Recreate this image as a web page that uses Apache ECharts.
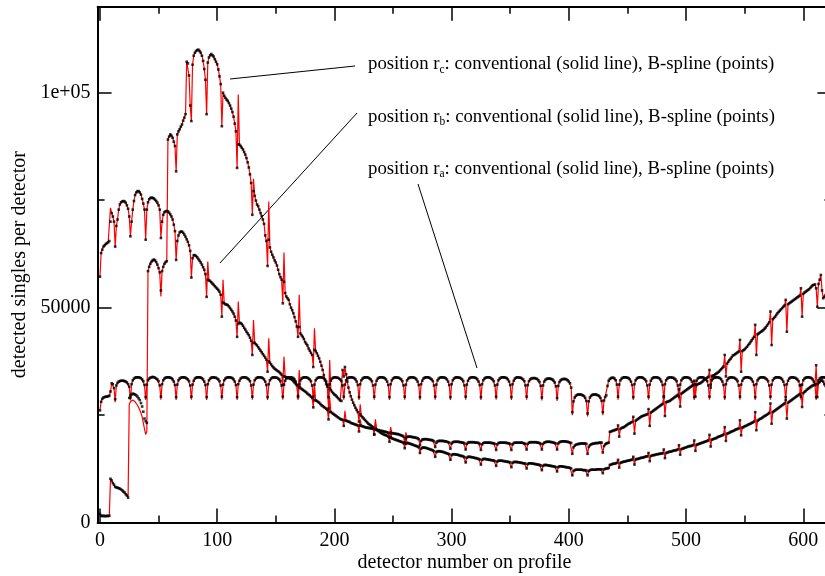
<!DOCTYPE html>
<html><head><meta charset="utf-8">
<script src="https://cdn.jsdelivr.net/npm/echarts@6/dist/echarts.min.js"></script>
<style>html,body{margin:0;padding:0;background:#fff}#c{width:825px;height:576px}</style>
</head><body><div id="c"></div>
<script>
// detector index = array position (0..620); values in units of 100 counts
const xTickValues=[0,100,200,300,400,500,600];
const xMinorTickValues=[50,150,250,350,450,550];
const yTickValues=[0,500,1000];
const yMinorTickValues=[250,750];
const yTickLabels={0:'0',500:'50000',1000:'1e+05'};
const annotationSubs=['c','b','a'];
const annotationText=': conventional (solid line), B-spline (points)';

const ra_points=[
261,281,288,291,292,293,293,294,295,305,324,322,313,
287,319,325,328,329,330,330,330,329,328,326,322,316,
291,322,331,335,337,338,338,338,337,336,333,329,320,
292,321,331,335,337,338,339,338,337,335,333,329,319,
293,322,331,335,337,338,338,338,337,336,333,328,320,
292,321,331,335,337,338,338,338,337,335,333,329,319,
293,321,330,335,337,338,338,338,337,336,333,328,320,
292,322,331,335,337,338,338,337,337,335,333,329,319,
293,321,331,335,337,338,338,338,337,336,333,328,320,
292,322,330,335,337,338,338,338,337,335,333,329,319,
293,321,331,335,337,338,338,338,337,336,333,328,320,
292,322,331,335,337,338,338,337,337,335,333,329,319,
293,321,330,335,337,338,338,338,337,336,333,328,320,
292,322,331,335,337,338,338,338,337,335,333,329,319,
293,321,331,335,337,338,338,338,337,336,333,328,320,
292,322,330,335,337,338,338,337,337,335,333,329,319,
293,321,331,335,337,338,338,338,337,336,333,328,320,
292,322,331,335,337,338,338,338,337,335,333,329,319,
293,321,330,335,337,338,338,338,337,336,333,328,320,
292,322,331,335,337,338,338,337,337,335,333,329,319,
293,321,331,335,337,338,338,338,337,336,333,328,320,
292,322,330,335,337,338,338,338,337,335,333,329,319,
293,321,331,335,337,338,338,338,337,336,333,328,320,
292,322,331,335,337,338,338,337,337,335,333,329,319,
293,321,330,335,337,338,338,338,337,336,333,328,320,
292,322,331,335,337,338,338,338,337,335,333,329,319,
293,321,331,335,337,338,338,338,337,336,333,328,320,
292,322,330,335,337,338,338,337,337,335,333,329,319,
293,320,329,333,335,336,336,336,335,334,331,327,318,
291,319,328,332,334,335,335,335,334,333,330,326,317,
290,318,327,331,333,334,334,334,333,331,328,324,314,
257,282,291,295,297,298,298,298,297,296,294,290,283,
254,282,291,295,297,298,298,298,297,296,294,290,283,
257,284,292,296,318,330,334,336,337,337,335,331,321,
293,321,331,335,337,338,338,338,337,336,333,328,320,
292,322,331,335,337,338,338,338,337,335,333,329,319,
293,321,330,335,337,338,338,338,337,336,333,328,320,
292,322,331,335,337,338,338,337,337,335,333,329,319,
293,321,331,335,337,338,338,338,337,336,333,328,320,
292,322,330,335,337,338,338,338,337,335,333,329,319,
293,321,331,335,337,338,338,338,337,336,333,328,320,
292,322,331,335,337,338,338,337,337,335,333,329,319,
293,321,330,335,337,338,338,338,337,336,333,328,320,
292,322,331,335,337,338,338,338,337,335,333,329,319,
293,321,331,335,337,338,338,338,337,336,333,328,320,
292,322,330,335,337,338,338,337,337,335,333,329,319,
293,321,331,335,337,338,338,338,337,336,333,328,320,
292,322,331,335,337,338,338,338,337,336];

const ra_line=[
261,281,288,291,292,293,293,294,295,305,324,322,313,
280,319,325,328,329,330,330,330,329,328,326,322,316,
284,322,331,335,337,338,338,338,337,336,333,329,320,
285,321,331,335,337,338,339,338,337,335,333,329,319,
286,322,331,335,337,338,338,338,337,336,333,328,320,
285,321,331,335,337,338,338,338,337,335,333,329,319,
286,321,330,335,337,338,338,338,337,336,333,328,320,
285,322,331,335,337,338,338,337,337,335,333,329,319,
286,321,331,335,337,338,338,338,337,336,333,328,320,
285,322,330,335,337,338,338,338,337,335,333,329,319,
286,321,331,335,337,338,338,338,337,336,333,328,320,
285,322,331,335,337,338,338,337,337,335,333,329,319,
286,321,330,335,337,338,338,338,337,336,333,328,320,
285,322,331,335,337,338,338,338,337,335,333,329,319,
286,321,331,335,337,338,338,338,337,336,333,328,320,
285,322,330,335,337,338,338,337,337,335,333,329,319,
286,321,331,335,337,338,338,338,337,336,333,328,320,
285,322,331,335,337,338,338,338,337,335,333,329,319,
286,321,330,335,337,338,338,338,337,336,333,328,320,
285,322,331,335,337,338,338,337,337,335,333,329,319,
286,321,331,335,337,338,338,338,337,336,333,328,320,
285,322,330,335,337,338,338,338,337,335,333,329,319,
286,321,331,335,337,338,338,338,337,336,333,328,320,
285,322,331,335,337,338,338,337,337,335,333,329,319,
286,321,330,335,337,338,338,338,337,336,333,328,320,
285,322,331,335,337,338,338,338,337,335,333,329,319,
286,321,331,335,337,338,338,338,337,336,333,328,320,
285,322,330,335,337,338,338,337,337,335,333,329,319,
286,320,329,333,335,336,336,336,335,334,331,327,318,
284,319,328,332,334,335,335,335,334,333,330,326,317,
283,318,327,331,333,334,334,334,333,331,328,324,314,
250,282,291,295,297,298,298,298,297,296,294,290,283,
247,282,291,295,297,298,298,298,297,296,294,290,283,
250,284,292,296,318,330,334,336,337,337,335,331,321,
286,321,331,335,337,338,338,338,337,336,333,328,320,
285,322,331,335,337,338,338,338,337,335,333,329,319,
286,321,330,335,337,338,338,338,337,336,333,328,320,
285,322,331,335,337,338,338,337,337,335,333,329,319,
286,321,331,335,337,338,338,338,337,336,333,328,320,
285,322,330,335,337,338,338,338,337,335,333,329,319,
286,321,331,335,337,338,338,338,337,336,333,328,320,
285,322,331,335,337,338,338,337,337,335,333,329,319,
286,321,330,335,337,338,338,338,337,336,333,328,320,
285,322,331,335,337,338,338,338,337,335,333,329,319,
286,321,331,335,337,338,338,338,337,336,333,328,320,
285,322,330,335,337,338,338,337,337,335,333,329,319,
286,321,331,335,337,338,338,338,337,336,333,328,320,
285,322,331,335,337,338,338,338,337,336];

const rb_points=[
572,627,635,642,645,648,650,652,655,700,720,712,700,
642,690,705,728,740,745,747,748,747,744,738,730,712,
666,700,728,748,762,768,771,771,768,763,753,742,728,
658,728,745,752,755,756,755,754,751,748,744,738,728,
662,700,716,722,724,725,724,721,717,712,705,693,678,
611,655,668,675,677,677,674,670,665,659,653,645,632,
570,615,622,622,620,617,613,609,605,600,594,588,578,
525,565,563,562,559,556,553,550,547,544,541,537,530,
479,512,510,508,507,506,503,499,495,491,486,479,470,
432,462,465,464,462,458,453,449,444,440,436,430,423,
390,418,418,415,412,408,404,400,396,392,388,384,379,
351,375,372,368,364,361,358,356,354,352,350,347,344,
320,340,339,338,337,336,335,334,332,329,326,323,320,
295,315,313,311,309,307,305,303,300,298,296,293,290,
268,285,284,283,281,279,276,273,271,269,267,265,262,
240,258,257,255,253,251,249,247,245,243,241,240,239,
225,238,237,236,235,234,232,231,230,229,228,227,226,
212,226,225,224,223,222,221,221,220,220,219,219,218,
205,217,216,215,215,214,213,213,212,211,211,210,209,
198,209,208,208,207,207,206,206,205,204,203,202,200,
186,196,199,200,200,200,199,199,198,198,197,196,194,
180,190,193,194,194,194,194,193,193,192,192,191,189,
176,186,189,190,190,190,190,190,189,189,188,187,186,
172,184,187,188,188,188,188,188,187,187,186,186,184,
170,183,186,187,187,187,187,187,186,186,186,185,183,
169,182,185,186,186,186,186,186,186,185,185,184,183,
169,182,185,186,186,186,186,186,186,185,185,184,183,
169,182,185,186,186,186,186,186,186,186,185,184,183,
170,183,186,187,187,187,187,187,187,186,186,185,183,
170,183,186,187,188,188,188,188,187,187,186,185,184,
170,184,187,188,189,189,189,189,188,188,187,186,185,
160,175,179,181,182,183,183,184,184,184,184,184,183,
160,176,180,182,183,184,184,185,185,185,186,186,186,
163,178,182,184,185,186,211,212,213,214,215,216,217,
226,200,218,220,221,222,224,226,228,230,231,233,234,
246,207,237,239,241,243,245,247,248,249,250,251,252,
264,225,256,258,260,262,264,266,268,270,272,274,276,
294,248,280,281,282,283,285,287,289,291,293,295,297,
310,270,300,302,304,306,308,310,312,314,316,318,320,
330,293,320,322,323,324,326,328,331,333,335,337,339,
355,314,341,342,343,345,347,349,351,354,357,360,363,
390,340,370,374,378,381,385,389,390,392,394,396,398,
425,351,399,401,403,406,409,413,416,420,424,428,432,
460,390,438,440,442,444,446,448,451,454,458,462,466,
491,413,473,476,479,483,487,490,493,496,499,502,505,
518,444,508,510,512,514,516,518,520,522,524,526,528,
545,479,532,535,537,539,541,543,546,549,552,553,554,
545,502,555,565,576,540,522,525,529,534];

const rb_line=[
572,627,635,642,645,648,650,652,655,732,720,712,700,
642,690,705,728,740,745,747,748,747,744,738,730,712,
666,700,728,748,762,768,771,771,768,763,753,742,728,
658,728,745,752,755,756,755,754,751,748,744,738,728,
662,700,716,722,724,725,724,721,717,712,705,693,678,
611,655,668,675,677,677,674,670,665,659,653,645,632,
570,615,622,622,620,617,613,609,605,600,594,588,578,
525,607,563,562,559,556,553,550,547,544,541,537,530,
479,565,510,508,507,506,503,499,495,491,486,479,470,
432,514,465,464,462,458,453,449,444,440,436,430,423,
390,471,418,415,412,408,404,400,396,392,388,384,379,
351,429,372,368,364,361,358,356,354,352,350,347,344,
320,386,339,338,337,336,335,334,332,329,326,323,320,
295,355,313,311,309,307,305,303,300,298,296,293,290,
268,320,284,283,281,279,276,273,271,269,267,265,262,
240,290,257,255,253,251,249,247,245,243,241,240,239,
225,260,237,236,235,234,232,231,230,229,228,227,226,
212,240,225,224,223,222,221,221,220,220,219,219,218,
205,232,216,215,215,214,213,213,212,211,211,210,209,
198,222,208,208,207,207,206,206,205,204,203,202,200,
186,210,199,200,200,200,199,199,198,198,197,196,194,
180,190,193,194,194,194,194,193,193,192,192,191,189,
176,186,189,190,190,190,190,190,189,189,188,187,186,
172,184,187,188,188,188,188,188,187,187,186,186,184,
170,183,186,187,187,187,187,187,186,186,186,185,183,
169,182,185,186,186,186,186,186,186,185,185,184,183,
169,182,185,186,186,186,186,186,186,185,185,184,183,
169,182,185,186,186,186,186,186,186,186,185,184,183,
170,183,186,187,187,187,187,187,187,186,186,185,183,
170,183,186,187,188,188,188,188,187,187,186,185,184,
170,184,187,188,189,189,189,189,188,188,187,186,185,
160,175,179,181,182,183,183,184,184,184,184,184,183,
160,176,180,182,183,184,184,185,185,185,186,186,186,
163,178,182,184,185,186,211,212,213,214,215,216,217,
226,200,218,220,221,222,224,226,228,230,231,233,234,
246,207,237,239,241,243,245,247,248,249,250,251,252,
264,225,256,258,260,262,264,266,268,270,272,274,276,
294,248,280,281,282,283,285,287,289,291,293,295,297,
310,270,300,302,304,306,308,310,312,314,316,318,320,
330,293,320,322,323,324,326,328,331,333,335,337,339,
355,314,341,342,343,345,347,349,351,354,357,360,363,
390,340,370,374,378,381,385,389,390,392,394,396,398,
425,351,399,401,403,406,409,413,416,420,424,428,432,
460,390,438,440,442,444,446,448,451,454,458,462,466,
491,413,473,476,479,483,487,490,493,496,499,502,505,
518,444,508,510,512,514,516,518,520,522,524,526,528,
545,479,532,535,537,539,541,543,546,549,552,553,554,
545,502,555,565,576,540,522,525,529,534];

const rc_points=[
20,16,15,16,15,15,16,15,16,102,98,92,88,
83,82,81,80,79,77,75,72,70,66,63,58,290,
296,298,300,299,298,296,293,289,285,278,270,258,242,
236,232,585,595,602,607,610,612,610,606,600,592,582,
540,585,595,602,606,608,891,898,903,900,895,886,876,
817,903,910,915,921,926,935,942,950,1072,1068,1040,970,
934,1065,1086,1093,1097,1099,1100,1097,1093,1086,1074,1055,1030,
950,1070,1082,1087,1090,1087,1084,1078,1072,1066,1054,1038,1020,
922,1000,993,988,984,981,976,970,963,955,944,928,910,
825,880,879,876,872,868,862,856,848,838,826,810,790,
716,771,760,749,740,736,728,720,713,705,695,668,655,
597,658,640,630,623,617,610,605,598,588,578,571,565,
510,560,534,526,522,518,508,500,494,487,478,468,456,
432,455,440,436,432,427,420,416,412,405,400,395,390,
362,402,399,394,388,382,374,365,355,343,331,322,316,
265,312,308,304,301,298,296,293,290,287,284,283,355,
340,362,345,328,314,303,294,286,279,273,267,262,257,
235,252,248,245,242,239,236,233,230,228,226,224,222,
205,218,216,214,212,210,208,207,205,204,203,202,200,
188,198,196,195,194,193,192,191,190,189,188,187,185,
173,183,185,185,184,183,182,181,180,179,178,177,175,
162,172,174,175,174,174,173,172,171,170,169,168,166,
153,164,166,166,166,165,165,164,163,162,161,160,159,
146,157,159,159,159,158,158,157,156,155,155,154,152,
140,151,153,153,153,152,152,151,150,150,149,148,147,
135,146,148,148,148,147,147,146,146,145,145,144,143,
132,142,144,144,144,144,143,143,142,142,141,141,140,
129,139,141,141,141,141,140,140,139,139,138,138,137,
126,136,138,138,138,137,137,136,136,135,135,134,133,
122,132,134,134,134,133,133,132,132,131,131,130,129,
119,129,131,131,131,130,130,129,129,128,128,127,126,
110,120,122,123,123,123,123,123,123,122,122,122,121,
110,120,122,123,123,123,123,123,124,124,124,124,124,
115,124,125,126,126,127,134,135,136,137,137,138,139,
146,128,139,140,141,142,142,143,144,144,145,146,146,
153,135,147,148,148,149,150,151,151,152,153,154,154,
162,143,155,156,157,157,158,159,159,160,160,161,161,
170,150,162,163,164,165,165,166,167,168,168,169,170,
180,158,171,172,173,174,175,176,177,178,178,179,180,
191,167,181,182,183,184,185,186,187,188,189,190,191,
204,177,193,194,195,196,197,199,200,201,202,203,205,
222,190,207,208,209,211,212,213,214,216,217,218,219,
238,203,221,222,224,225,226,228,229,230,232,233,235,
257,215,237,239,241,242,244,246,248,249,251,253,255,
277,230,257,259,261,263,265,267,269,271,273,275,277,
285,242,279,281,283,285,287,289,291,293,295,297,299,
320,269,301,304,306,309,311,313,315,317,319,320,322,
366,292,325,327,330,332,328,322,318,320];

const rc_line=[
20,16,15,16,15,15,16,15,16,102,98,92,88,
83,82,81,80,79,77,75,72,70,66,63,58,275,
281,284,285,284,281,277,273,268,262,255,246,232,218,
205,212,585,595,602,607,610,612,610,606,600,592,582,
526,585,595,602,606,608,891,898,903,900,895,886,876,
817,903,910,915,921,926,935,942,950,1072,1068,1040,970,
934,1065,1086,1093,1097,1099,1100,1097,1093,1086,1074,1055,1030,
950,1070,1082,1087,1090,1087,1084,1078,1072,1066,1054,1038,1020,
922,1000,993,988,984,981,976,970,963,955,944,928,910,
825,996,879,876,872,868,862,856,848,838,826,810,790,
716,800,760,749,740,736,728,720,713,705,695,668,655,
597,747,640,630,623,617,610,605,598,588,578,571,565,
510,628,534,526,522,518,508,500,494,487,478,468,456,
432,530,440,436,432,427,420,416,412,405,400,395,390,
362,452,399,394,388,382,374,365,355,343,331,322,316,
265,378,308,304,301,298,296,293,290,287,284,283,355,
340,362,345,328,314,303,294,286,279,273,267,262,257,
235,275,248,245,242,239,236,233,230,228,226,224,222,
205,240,216,214,212,210,208,207,205,204,203,202,200,
188,215,196,195,194,193,192,191,190,189,188,187,185,
173,200,185,185,184,183,182,181,180,179,178,177,175,
162,172,174,175,174,174,173,172,171,170,169,168,166,
153,164,166,166,166,165,165,164,163,162,161,160,159,
146,157,159,159,159,158,158,157,156,155,155,154,152,
140,151,153,153,153,152,152,151,150,150,149,148,147,
135,146,148,148,148,147,147,146,146,145,145,144,143,
132,142,144,144,144,144,143,143,142,142,141,141,140,
129,139,141,141,141,141,140,140,139,139,138,138,137,
126,136,138,138,138,137,137,136,136,135,135,134,133,
122,132,134,134,134,133,133,132,132,131,131,130,129,
119,129,131,131,131,130,130,129,129,128,128,127,126,
110,120,122,123,123,123,123,123,123,122,122,122,121,
110,120,122,123,123,123,123,123,124,124,124,124,124,
115,124,125,126,126,127,134,135,136,137,137,138,139,
146,128,139,140,141,142,142,143,144,144,145,146,146,
153,135,147,148,148,149,150,151,151,152,153,154,154,
162,143,155,156,157,157,158,159,159,160,160,161,161,
170,150,162,163,164,165,165,166,167,168,168,169,170,
180,158,171,172,173,174,175,176,177,178,178,179,180,
191,167,181,182,183,184,185,186,187,188,189,190,191,
204,177,193,194,195,196,197,199,200,201,202,203,205,
222,190,207,208,209,211,212,213,214,216,217,218,219,
238,203,221,222,224,225,226,228,229,230,232,233,235,
257,215,237,239,241,242,244,246,248,249,251,253,255,
277,230,257,259,261,263,265,267,269,271,273,275,277,
285,242,279,281,283,285,287,289,291,293,295,297,299,
320,269,301,304,306,309,311,313,315,317,319,320,322,
366,292,325,327,330,332,328,322,318,320];

const F='"Liberation Serif","Times New Roman",serif';
const toXY=a=>a.map((v,i)=>[i,v]);
const chart=echarts.init(document.getElementById('c'),null,{renderer:'canvas'});
const XMIN=-2, XMAX=624, YMAX=1200;
const tickStyle={color:'#000',width:1.5};
function xAx(pos,vals,len,showLine,label){
  return {type:'value',min:XMIN,max:XMAX,position:pos,gridIndex:0,
    axisLine:{show:showLine,onZero:false,lineStyle:{color:'#000',width:2}},
    axisTick:{show:true,inside:true,length:len,customValues:vals,lineStyle:tickStyle},
    axisLabel:label?{show:true,customValues:xTickValues,color:'#000',fontFamily:F,fontSize:20,margin:8}:{show:false},
    splitLine:{show:false}};
}
function yAx(pos,vals,len,showLine,label){
  return {type:'value',min:0,max:YMAX,position:pos,gridIndex:0,
    axisLine:{show:showLine,onZero:false,lineStyle:{color:'#000',width:2}},
    axisTick:{show:true,inside:true,length:len,customValues:vals,lineStyle:tickStyle},
    axisLabel:label?{show:true,customValues:yTickValues,formatter:v=>yTickLabels[v]||'',color:'#000',fontFamily:F,fontSize:20,margin:7}:{show:false},
    splitLine:{show:false}};
}
const xMain=xAx('bottom',xTickValues,14,true,true);
Object.assign(xMain,{name:'detector number on profile',nameLocation:'middle',nameGap:30,nameMoveOverlap:false,
  nameTextStyle:{color:'#000',fontFamily:F,fontSize:20}});
const yMain=yAx('left',yTickValues,14,true,true);
Object.assign(yMain,{name:'detected singles per detector',nameLocation:'middle',nameGap:66,nameRotate:90,
  nameTextStyle:{color:'#000',fontFamily:F,fontSize:20}});

const lineSeries=[ra_line,rb_line,rc_line].map(a=>({type:'line',data:toXY(a),xAxisIndex:0,yAxisIndex:0,
  symbol:'none',lineStyle:{color:'#ff0000',width:1.2},silent:true,z:2}));
const ptSeries=[ra_points,rb_points,rc_points].map(a=>({type:'scatter',data:toXY(a),xAxisIndex:0,yAxisIndex:0,
  symbol:'rect',symbolSize:2.6,itemStyle:{color:'#000'},silent:true,z:3}));

const annY=[53.5,106,158];
const graphic=[
  {type:'line',shape:{x1:230,y1:79,x2:355,y2:66},style:{stroke:'#000',lineWidth:1}},
  {type:'line',shape:{x1:220,y1:263,x2:357,y2:113},style:{stroke:'#000',lineWidth:1}},
  {type:'line',shape:{x1:477,y1:368,x2:418,y2:184},style:{stroke:'#000',lineWidth:1}}
].concat(annotationSubs.map((s,i)=>({type:'text',x:368,y:annY[i],style:{
  text:'{n|position r}{s|'+s+'}{n|'+annotationText+'}',
  verticalAlign:'top',align:'left',
  rich:{n:{fontFamily:F,fontSize:18.8,lineHeight:22,fill:'#000'},
        s:{fontFamily:F,fontSize:11.5,lineHeight:11,verticalAlign:'bottom',fill:'#000'}}}})));

chart.setOption({
  animation:false,
  backgroundColor:'#fff',
  grid:{left:97.6,top:6.7,width:733.8,height:515.9,containLabel:false,outerBoundsMode:'none'},
  xAxis:[xMain,xAx('bottom',xMinorTickValues,7,false,false),xAx('top',xTickValues,14,true,false),xAx('top',xMinorTickValues,7,false,false)],
  yAxis:[yMain,yAx('left',yMinorTickValues,7,false,false),yAx('right',yTickValues,14,true,false),yAx('right',yMinorTickValues,7,false,false)],
  series:lineSeries.concat(ptSeries),
  graphic:graphic
});
</script>
</body></html>
